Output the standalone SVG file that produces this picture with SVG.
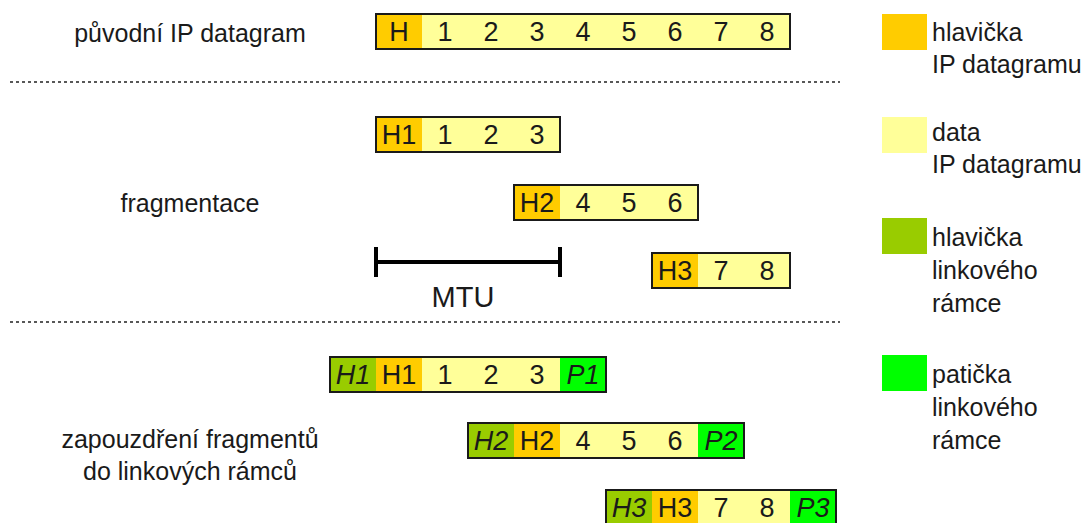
<svg xmlns="http://www.w3.org/2000/svg" width="1089" height="523" viewBox="0 0 1089 523">
  <style>
    .lbl { font-family: "Liberation Sans", Arial, sans-serif; font-size: 25px; fill: #1a1a1a; }
    .mid { text-anchor: middle; }
    .cell { font-family: "Liberation Sans", Arial, sans-serif; font-size: 27px; fill: #1a1a1a; text-anchor: middle; }
    .it { font-style: italic; }
    .hdr { fill: #FFCC00; }
    .dat { fill: #FFFF99; }
    .lhd { fill: #99CC00; }
    .lft { fill: #00FF00; }
    .frame { fill: none; stroke: #1a1a1a; stroke-width: 2; }
    .sep { stroke: #222; stroke-width: 1.5; stroke-dasharray: 3 3; fill: none; }
    .mtu { stroke: #000; stroke-width: 4; fill: none; }
  </style>

  <!-- section labels -->
  <g id="labels">
    <text class="lbl mid" x="190" y="42">původní IP datagram</text>
    <text class="lbl mid" x="190" y="212">fragmentace</text>
    <text class="lbl mid" x="190" y="448">zapouzdření fragmentů</text>
    <text class="lbl mid" x="190" y="480">do linkových rámců</text>
  </g>

  <!-- section separators -->
  <g id="separators">
    <line class="sep" x1="10" y1="82" x2="840" y2="82"/>
    <line class="sep" x1="10" y1="322" x2="840" y2="322"/>
  </g>

  <!-- original datagram -->
  <g id="datagram">
    <rect class="hdr" x="376" y="14" width="46" height="35"/>
    <rect class="dat" x="422" y="14" width="368" height="35"/>
    <rect class="frame" x="376" y="14" width="414" height="35"/>
    <text class="cell" x="399" y="41">H</text>
    <text class="cell" x="445" y="41">1</text>
    <text class="cell" x="491" y="41">2</text>
    <text class="cell" x="537" y="41">3</text>
    <text class="cell" x="583" y="41">4</text>
    <text class="cell" x="629" y="41">5</text>
    <text class="cell" x="675" y="41">6</text>
    <text class="cell" x="721" y="41">7</text>
    <text class="cell" x="767" y="41">8</text>
  </g>

  <!-- fragments -->
  <g id="fragment1">
    <rect class="hdr" x="376" y="117" width="46" height="35"/>
    <rect class="dat" x="422" y="117" width="138" height="35"/>
    <rect class="frame" x="376" y="117" width="184" height="35"/>
    <text class="cell" x="399" y="144">H1</text>
    <text class="cell" x="445" y="144">1</text>
    <text class="cell" x="491" y="144">2</text>
    <text class="cell" x="537" y="144">3</text>
  </g>
  <g id="fragment2">
    <rect class="hdr" x="514" y="185" width="46" height="35"/>
    <rect class="dat" x="560" y="185" width="138" height="35"/>
    <rect class="frame" x="514" y="185" width="184" height="35"/>
    <text class="cell" x="537" y="212">H2</text>
    <text class="cell" x="583" y="212">4</text>
    <text class="cell" x="629" y="212">5</text>
    <text class="cell" x="675" y="212">6</text>
  </g>
  <g id="fragment3">
    <rect class="hdr" x="652" y="253" width="46" height="35"/>
    <rect class="dat" x="698" y="253" width="92" height="35"/>
    <rect class="frame" x="652" y="253" width="138" height="35"/>
    <text class="cell" x="675" y="280">H3</text>
    <text class="cell" x="721" y="280">7</text>
    <text class="cell" x="767" y="280">8</text>
  </g>

  <!-- MTU span -->
  <g id="mtu">
    <line class="mtu" x1="376" y1="262" x2="560" y2="262"/>
    <line class="mtu" x1="376" y1="247" x2="376" y2="277"/>
    <line class="mtu" x1="560" y1="247" x2="560" y2="277"/>
    <text class="lbl mid" x="463" y="307" style="font-size:29px">MTU</text>
  </g>

  <!-- link-layer frames -->
  <g id="frame1">
    <rect class="lhd" x="330" y="357" width="46" height="35"/>
    <rect class="hdr" x="376" y="357" width="46" height="35"/>
    <rect class="dat" x="422" y="357" width="138" height="35"/>
    <rect class="lft" x="560" y="357" width="46" height="35"/>
    <rect class="frame" x="330" y="357" width="276" height="35"/>
    <text class="cell it" x="353" y="384">H1</text>
    <text class="cell" x="399" y="384">H1</text>
    <text class="cell" x="445" y="384">1</text>
    <text class="cell" x="491" y="384">2</text>
    <text class="cell" x="537" y="384">3</text>
    <text class="cell it" x="583" y="384">P1</text>
  </g>
  <g id="frame2">
    <rect class="lhd" x="468" y="423" width="46" height="35"/>
    <rect class="hdr" x="514" y="423" width="46" height="35"/>
    <rect class="dat" x="560" y="423" width="138" height="35"/>
    <rect class="lft" x="698" y="423" width="46" height="35"/>
    <rect class="frame" x="468" y="423" width="276" height="35"/>
    <text class="cell it" x="491" y="450">H2</text>
    <text class="cell" x="537" y="450">H2</text>
    <text class="cell" x="583" y="450">4</text>
    <text class="cell" x="629" y="450">5</text>
    <text class="cell" x="675" y="450">6</text>
    <text class="cell it" x="721" y="450">P2</text>
  </g>
  <g id="frame3">
    <rect class="lhd" x="606" y="490" width="46" height="35"/>
    <rect class="hdr" x="652" y="490" width="46" height="35"/>
    <rect class="dat" x="698" y="490" width="92" height="35"/>
    <rect class="lft" x="790" y="490" width="46" height="35"/>
    <rect class="frame" x="606" y="490" width="230" height="35"/>
    <text class="cell it" x="629" y="517">H3</text>
    <text class="cell" x="675" y="517">H3</text>
    <text class="cell" x="721" y="517">7</text>
    <text class="cell" x="767" y="517">8</text>
    <text class="cell it" x="813" y="517">P3</text>
  </g>

  <!-- legend -->
  <g id="legend-ip-header">
    <rect class="hdr" x="882" y="14" width="45" height="36"/>
    <text class="lbl" x="932" y="41">hlavička</text>
    <text class="lbl" x="932" y="73">IP datagramu</text>
  </g>
  <g id="legend-ip-data">
    <rect class="dat" x="882" y="117" width="45" height="36"/>
    <text class="lbl" x="932" y="141">data</text>
    <text class="lbl" x="932" y="173">IP datagramu</text>
  </g>
  <g id="legend-link-header">
    <rect class="lhd" x="882" y="218" width="45" height="36"/>
    <text class="lbl" x="932" y="246">hlavička</text>
    <text class="lbl" x="932" y="279">linkového</text>
    <text class="lbl" x="932" y="312">rámce</text>
  </g>
  <g id="legend-link-trailer">
    <rect class="lft" x="882" y="355" width="45" height="36"/>
    <text class="lbl" x="932" y="383">patička</text>
    <text class="lbl" x="932" y="416">linkového</text>
    <text class="lbl" x="932" y="449">rámce</text>
  </g>
</svg>
